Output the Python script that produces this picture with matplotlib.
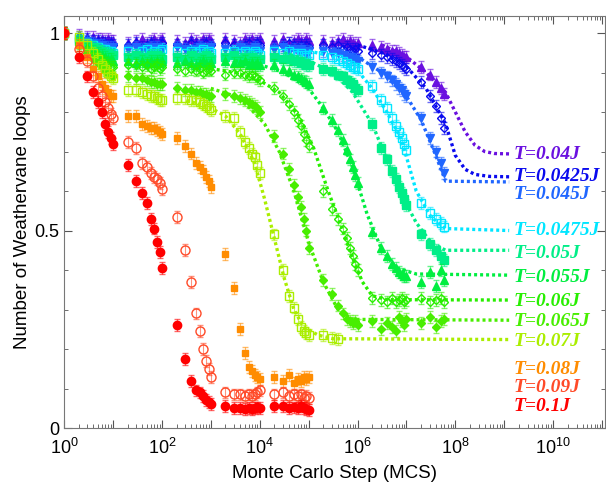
import numpy as np
import matplotlib
matplotlib.use("Agg")
import matplotlib.pyplot as plt
from matplotlib.ticker import LogLocator, NullFormatter, MultipleLocator
from matplotlib.colors import to_rgba

plt.rcParams["font.family"] = ["Liberation Sans", "DejaVu Sans"]
plt.rcParams["mathtext.fontset"] = "custom"
plt.rcParams["mathtext.rm"] = "Liberation Sans"
plt.rcParams["mathtext.default"] = "regular"

# -- Data -------------------------------------------------------
# samples at x = 1, then m*10^d (m = 2..10) per decade
MULTS = [2, 3, 4, 5, 6, 7, 8, 9, 10]
N_DEC = 8

y_t004 = [1.0,
          0.995, 0.99, 0.99, 0.985, 0.985, 0.98, 0.985, 0.98, 0.98,
          0.975, 0.98, 0.985, 0.975, 0.98, 0.985, 0.975, 0.98, 0.985,
          0.98, 0.975, 0.985, 0.98, 0.975, 0.985, 0.98, 0.985, 0.98,
          0.985, 0.98, 0.975, 0.985, 0.98, 0.985, 0.975, 0.98, 0.985,
          0.98, 0.985, 0.975, 0.98, 0.985, 0.98, 0.975, 0.985, 0.98,
          0.98, 0.975, 0.98, 0.985, 0.975, 0.98, 0.975, 0.97, 0.975,
          0.97, 0.965, 0.96, 0.955, 0.955, 0.95, 0.945, 0.94, 0.94,
          0.915, 0.895, 0.875, 0.86, 0.845]
y_t00425 = [1.0,
            0.99, 0.985, 0.98, 0.98, 0.975, 0.975, 0.97, 0.975, 0.97,
            0.97, 0.975, 0.965, 0.97, 0.975, 0.97, 0.965, 0.97, 0.975,
            0.97, 0.965, 0.975, 0.97, 0.965, 0.97, 0.975, 0.965, 0.97,
            0.975, 0.97, 0.965, 0.97, 0.975, 0.965, 0.97, 0.975, 0.97,
            0.965, 0.97, 0.975, 0.97, 0.965, 0.97, 0.965, 0.97, 0.965,
            0.97, 0.965, 0.97, 0.96, 0.965, 0.96, 0.955, 0.96, 0.955,
            0.95, 0.945, 0.94, 0.935, 0.93, 0.925, 0.92, 0.915, 0.91,
            0.875, 0.84, 0.815, 0.785, 0.76]
y_t0045 = [1.0,
           0.985, 0.98, 0.975, 0.97, 0.97, 0.965, 0.965, 0.96, 0.965,
           0.96, 0.965, 0.96, 0.955, 0.965, 0.96, 0.965, 0.955, 0.96,
           0.965, 0.96, 0.955, 0.96, 0.965, 0.96, 0.955, 0.96, 0.965,
           0.96, 0.955, 0.965, 0.96, 0.955, 0.96, 0.965, 0.96, 0.955,
           0.96, 0.965, 0.955, 0.96, 0.955, 0.96, 0.955, 0.95, 0.955,
           0.955, 0.95, 0.95, 0.945, 0.94, 0.94, 0.935, 0.935, 0.93,
           0.915, 0.9, 0.89, 0.88, 0.87, 0.86, 0.855, 0.845, 0.84,
           0.785, 0.735, 0.7, 0.67, 0.645]
y_t00475 = [1.0,
            0.985, 0.975, 0.97, 0.965, 0.96, 0.96, 0.955, 0.955, 0.95,
            0.955, 0.95, 0.955, 0.96, 0.95, 0.955, 0.95, 0.955, 0.96,
            0.955, 0.95, 0.955, 0.95, 0.955, 0.96, 0.95, 0.955, 0.95,
            0.95, 0.955, 0.95, 0.955, 0.95, 0.945, 0.955, 0.95, 0.945,
            0.955, 0.95, 0.955, 0.95, 0.945, 0.95, 0.945, 0.94, 0.945,
            0.945, 0.94, 0.935, 0.93, 0.925, 0.92, 0.915, 0.915, 0.91,
            0.865, 0.83, 0.81, 0.785, 0.765, 0.75, 0.735, 0.72, 0.705,
            0.57, 0.545, 0.53, 0.52, 0.51]
y_t005 = [1.0,
          0.98, 0.97, 0.965, 0.96, 0.955, 0.95, 0.95, 0.945, 0.945,
          0.94, 0.945, 0.94, 0.935, 0.945, 0.94, 0.945, 0.94, 0.935,
          0.94, 0.935, 0.945, 0.94, 0.935, 0.94, 0.945, 0.94, 0.935,
          0.94, 0.945, 0.935, 0.94, 0.935, 0.94, 0.935, 0.93, 0.935,
          0.94, 0.935, 0.935, 0.93, 0.93, 0.925, 0.925, 0.92, 0.92,
          0.91, 0.905, 0.895, 0.89, 0.88, 0.875, 0.87, 0.86, 0.855,
          0.77, 0.71, 0.68, 0.65, 0.63, 0.61, 0.595, 0.58, 0.565,
          0.49, 0.465, 0.45, 0.435, 0.425]
y_t0055 = [1.0,
           0.98, 0.965, 0.955, 0.95, 0.945, 0.94, 0.935, 0.935, 0.93,
           0.93, 0.925, 0.93, 0.925, 0.93, 0.925, 0.93, 0.925, 0.93,
           0.925, 0.93, 0.925, 0.92, 0.925, 0.93, 0.925, 0.92, 0.925,
           0.93, 0.925, 0.925, 0.93, 0.92, 0.925, 0.92, 0.925, 0.92,
           0.92, 0.91, 0.905, 0.895, 0.89, 0.885, 0.88, 0.875, 0.87,
           0.81, 0.78, 0.755, 0.73, 0.705, 0.68, 0.66, 0.64, 0.62,
           0.495, 0.455, 0.435, 0.415, 0.405, 0.395, 0.39, 0.385, 0.385,
           0.37, 0.395, 0.36, 0.4, 0.375]
y_t006 = [1.0,
          0.975, 0.96, 0.945, 0.94, 0.93, 0.925, 0.92, 0.915, 0.915,
          0.92, 0.92, 0.915, 0.92, 0.91, 0.915, 0.92, 0.91, 0.915,
          0.91, 0.905, 0.91, 0.905, 0.91, 0.9, 0.905, 0.91, 0.905,
          0.895, 0.9, 0.9, 0.895, 0.89, 0.895, 0.89, 0.885, 0.88,
          0.86, 0.84, 0.82, 0.8, 0.78, 0.765, 0.745, 0.73, 0.715,
          0.6, 0.555, 0.53, 0.505, 0.48, 0.455, 0.435, 0.415, 0.4,
          0.33, 0.325, 0.32, 0.33, 0.32, 0.325, 0.33, 0.32, 0.325,
          0.33, 0.32, 0.325, 0.33, 0.32]
y_t0065 = [1.0,
           0.97, 0.95, 0.935, 0.925, 0.915, 0.905, 0.9, 0.895, 0.89,
           0.89, 0.885, 0.885, 0.88, 0.875, 0.875, 0.87, 0.87, 0.87,
           0.86, 0.855, 0.855, 0.85, 0.85, 0.845, 0.845, 0.84, 0.84,
           0.845, 0.84, 0.835, 0.83, 0.825, 0.82, 0.815, 0.81, 0.8,
           0.74, 0.695, 0.655, 0.615, 0.585, 0.56, 0.53, 0.5, 0.455,
           0.375, 0.34, 0.31, 0.29, 0.275, 0.27, 0.265, 0.27, 0.26,
           0.27, 0.25, 0.265, 0.255, 0.245, 0.28, 0.27, 0.26, 0.275,
           0.265, 0.28, 0.255, 0.27, 0.275]
y_t007 = [1.0,
          0.99, 0.97, 0.95, 0.935, 0.92, 0.91, 0.9, 0.89, 0.885,
          0.855, 0.855, 0.85, 0.845, 0.84, 0.84, 0.835, 0.83, 0.83,
          0.835, 0.835, 0.83, 0.83, 0.825, 0.82, 0.815, 0.81, 0.805,
          0.79, 0.785, 0.75, 0.725, 0.71, 0.695, 0.685, 0.665, 0.645,
          0.49, 0.4, 0.335, 0.305, 0.275, 0.255, 0.245, 0.24, 0.235,
          0.235, 0.228, 0.225]
y_t008 = [1.0,
          0.97, 0.94, 0.91, 0.89, 0.87, 0.86, 0.85, 0.84, 0.84,
          0.79, 0.79, 0.77, 0.765, 0.76, 0.76, 0.755, 0.75, 0.745,
          0.735, 0.715, 0.695, 0.67, 0.66, 0.65, 0.635, 0.625, 0.61,
          0.44, 0.355, 0.25, 0.19, 0.155, 0.145, 0.135, 0.13, 0.125,
          0.13, 0.12, 0.135, 0.115, 0.125, 0.12, 0.13, 0.125, 0.13]
y_t009 = [1.0,
          0.96, 0.93, 0.89, 0.86, 0.84, 0.825, 0.81, 0.795, 0.785,
          0.725, 0.71, 0.67, 0.66, 0.645, 0.635, 0.63, 0.62, 0.605,
          0.535, 0.45, 0.37, 0.29, 0.245, 0.2, 0.17, 0.15, 0.13,
          0.09, 0.085, 0.085, 0.08, 0.085, 0.08, 0.085, 0.09, 0.095,
          0.085, 0.09, 0.08, 0.085, 0.08, 0.085, 0.075, 0.08, 0.075]
y_t01 = [1.0,
         0.94, 0.89, 0.85, 0.825, 0.8, 0.77, 0.75, 0.735, 0.72,
         0.665, 0.625, 0.595, 0.57, 0.53, 0.505, 0.47, 0.445, 0.405,
         0.26, 0.175, 0.12, 0.095, 0.09, 0.08, 0.07, 0.065, 0.06,
         0.055, 0.05, 0.05, 0.048, 0.05, 0.047, 0.05, 0.052, 0.05,
         0.055, 0.055, 0.05, 0.052, 0.05, 0.055, 0.05, 0.048, 0.045]

# fitted curves: log10(MCS) and value
fit_lx_t004 = [6.5, 7.0, 7.4, 7.8, 8.0, 8.2, 8.4, 8.6, 8.8, 9.1]
fit_y_t004 = [0.97, 0.94, 0.9, 0.85, 0.8, 0.75, 0.716, 0.7, 0.695, 0.694]
fit_lx_t00425 = [6.0, 6.5, 7.0, 7.4, 7.8, 8.0, 8.2, 8.4, 8.7, 9.1]
fit_y_t00425 = [0.97, 0.95, 0.915, 0.86, 0.77, 0.69, 0.655, 0.642, 0.637, 0.636]
fit_lx_t0045 = [5.5, 6.0, 6.5, 7.0, 7.3, 7.6, 7.8, 9.1]
fit_y_t0045 = [0.96, 0.94, 0.9, 0.84, 0.78, 0.69, 0.625, 0.623]
fit_lx_t00475 = [5.0, 5.5, 6.0, 6.3, 6.6, 6.9, 7.2, 7.5, 7.8, 9.1]
fit_y_t00475 = [0.955, 0.94, 0.905, 0.86, 0.8, 0.73, 0.6, 0.535, 0.505, 0.5]
fit_lx_t005 = [4.5, 5.0, 5.5, 5.9, 6.3, 6.6, 6.9, 7.2, 7.5, 7.8, 9.1]
fit_y_t005 = [0.95, 0.93, 0.9, 0.85, 0.77, 0.68, 0.59, 0.52, 0.47, 0.45, 0.45]
fit_lx_t0055 = [3.5, 4.0, 4.5, 5.0, 5.3, 5.6, 5.9, 6.2, 6.5, 6.8, 7.2, 9.1]
fit_y_t0055 = [0.93, 0.92, 0.9, 0.86, 0.81, 0.75, 0.66, 0.54, 0.45, 0.405, 0.39, 0.387]
fit_lx_t006 = [3.0, 3.5, 4.0, 4.4, 4.8, 5.1, 5.4, 5.7, 5.9, 6.1, 6.3, 6.6, 9.1]
fit_y_t006 = [0.91, 0.9, 0.88, 0.85, 0.79, 0.71, 0.6, 0.5, 0.43, 0.37, 0.335, 0.325, 0.324]
fit_lx_t0065 = [3.0, 3.5, 3.8, 4.1, 4.4, 4.7, 5.0, 5.3, 5.6, 5.9, 9.1]
fit_y_t0065 = [0.86, 0.84, 0.81, 0.77, 0.7, 0.6, 0.47, 0.37, 0.3, 0.275, 0.273]
fit_lx_t007 = [2.5, 3.0, 3.3, 3.6, 3.9, 4.1, 4.3, 4.5, 4.7, 4.9, 5.2, 5.5, 9.1]
fit_y_t007 = [0.83, 0.81, 0.79, 0.745, 0.67, 0.58, 0.48, 0.38, 0.3, 0.255, 0.235, 0.226, 0.224]

labels = ["T=0.04J", "T=0.0425J", "T=0.045J", "T=0.0475J", "T=0.05J", "T=0.055J",
          "T=0.06J", "T=0.065J", "T=0.07J", "T=0.08J", "T=0.09J", "T=0.1J"]
colors = ["#6a10e0", "#0a0aee", "#2066ff", "#00e6ff", "#00ee88", "#00ee40",
          "#28ee00", "#48ee00", "#aaee00", "#ff8c00", "#ff4a28", "#ff0000"]
markers = ["^", "D", "v", "s", "s", "^", "D", "D", "s", "s", "o", "o"]
filled = [True, False, True, False, True, True, False, True, False, True, False, True]
msizes = [5.5, 4.5, 5.5, 5.5, 5.5, 5.5, 4.5, 4.5, 5.5, 5.0, 6.5, 6.0]
label_y = [0.693, 0.637, 0.592, 0.501, 0.443, 0.382, 0.320, 0.270, 0.219, 0.149, 0.103, 0.055]

all_y = [y_t004, y_t00425, y_t0045, y_t00475, y_t005, y_t0055,
         y_t006, y_t0065, y_t007, y_t008, y_t009, y_t01]
all_fit = [(fit_lx_t004, fit_y_t004), (fit_lx_t00425, fit_y_t00425),
           (fit_lx_t0045, fit_y_t0045), (fit_lx_t00475, fit_y_t00475),
           (fit_lx_t005, fit_y_t005), (fit_lx_t0055, fit_y_t0055),
           (fit_lx_t006, fit_y_t006), (fit_lx_t0065, fit_y_t0065),
           (fit_lx_t007, fit_y_t007), None, None, None]
ERR = 0.015

x_grid = [1.0] + [m * 10.0**d for d in range(N_DEC) for m in MULTS]

# -- Figure -----------------------------------------------------
fig = plt.figure(figsize=(6.06, 4.91), dpi=100)
ax = fig.add_axes([0.1056, 0.1283, 0.892, 0.839])
ax.set_xscale("log")

for i, y in enumerate(all_y):
    c = colors[i]
    x = x_grid[:len(y)]
    ax.errorbar(x, y, yerr=ERR, fmt=markers[i], ms=msizes[i],
                color=c, mec=c, mfc=c if filled[i] else "none", mew=1.0,
                ecolor=to_rgba(c, 0.6), elinewidth=0.8, capsize=2,
                capthick=0.8, zorder=2 + i * 0.1)
    if all_fit[i] is not None:
        lx, fy = all_fit[i]
        ax.plot(10.0 ** np.array(lx), fy, color=c, lw=2.4,
                ls=(0, (0.9, 0.9)), zorder=2 + i * 0.1 + 0.05)
    ax.text(10 ** 9.19, label_y[i], labels[i], color=c, fontsize=14,
            family="Liberation Serif", style="italic", weight="bold",
            va="center", ha="left", zorder=5)

ax.set_xlim(1, 10 ** 11.05)
ax.set_ylim(0, 1.043)
ax.set_xticks([10.0 ** k for k in range(12)])
ax.set_xticklabels([f"$10^{{{k}}}$" if k % 2 == 0 else "" for k in range(12)])
ax.xaxis.set_minor_locator(LogLocator(base=10, subs=np.arange(2, 10), numticks=100))
ax.xaxis.set_minor_formatter(NullFormatter())
ax.set_yticks([0, 0.5, 1])
ax.set_yticklabels(["0", "0.5", "1"])
ax.yaxis.set_minor_locator(MultipleLocator(0.1))

ax.tick_params(which="both", direction="in", top=True, right=True,
               colors="#555555", labelcolor="black", labelsize=13)
ax.tick_params(which="major", length=6)
ax.tick_params(which="minor", length=3)
ax.tick_params(axis="x", pad=7)
for s in ax.spines.values():
    s.set_color("#777777")

ax.set_xlabel("Monte Carlo Step (MCS)", fontsize=13.5, labelpad=5)
ax.set_ylabel("Number of Weathervane loops", fontsize=13.5, labelpad=2)

plt.savefig("out.png", dpi=100)
plt.close()
